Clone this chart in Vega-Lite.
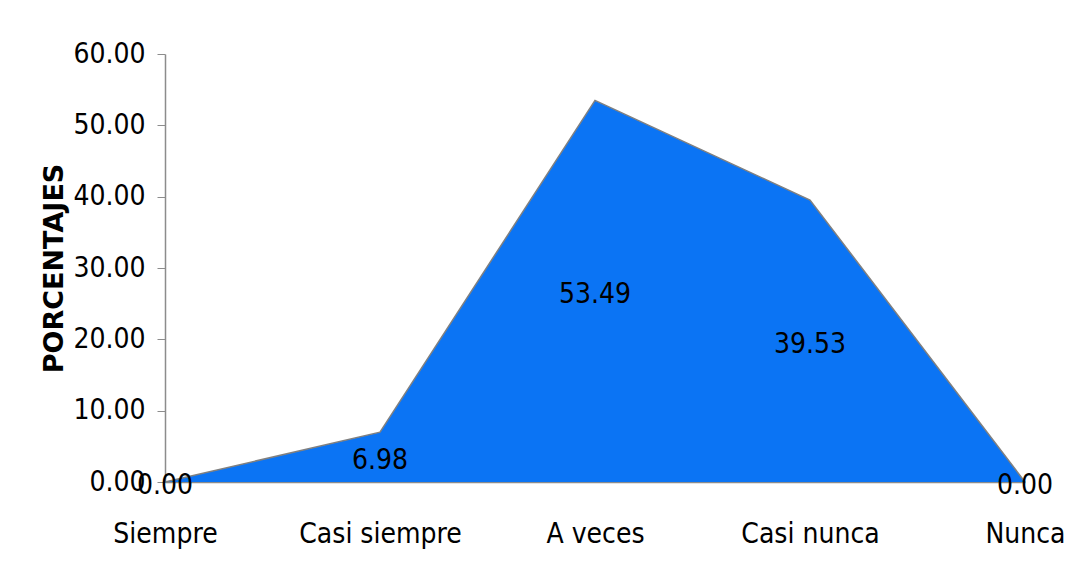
{
  "$schema": "https://vega.github.io/schema/vega-lite/v6.json",
  "width": 860,
  "height": 428,
  "autosize": {"type": "none"},
  "padding": {"left": 165, "top": 54, "right": 55, "bottom": 94},
  "background": "white",
  "config": {
    "view": {"stroke": null},
    "font": "DejaVu Sans Condensed, sans-serif"
  },
  "data": {
    "values": [
      {"categoria": "Siempre", "valor": 0.00},
      {"categoria": "Casi siempre", "valor": 6.98},
      {"categoria": "A veces", "valor": 53.49},
      {"categoria": "Casi nunca", "valor": 39.53},
      {"categoria": "Nunca", "valor": 0.00}
    ]
  },
  "encoding": {
    "x": {
      "field": "categoria",
      "type": "ordinal",
      "sort": null,
      "scale": {"type": "point", "padding": 0},
      "axis": {
        "title": null,
        "labelAngle": 0,
        "labelFont": "DejaVu Sans Condensed, sans-serif",
        "labelFontSize": 28,
        "labelColor": "#000000",
        "labelPadding": 38,
        "ticks": false,
        "domain": true,
        "domainColor": "#8c8c8c",
        "domainWidth": 1.5,
        "labelOverlap": false
      }
    }
  },
  "layer": [
    {
      "mark": {"type": "area", "color": "#0B74F4", "opacity": 1, "fillOpacity": 1, "line": {"color": "#808080", "strokeWidth": 1.5}},
      "encoding": {
        "y": {
          "field": "valor",
          "type": "quantitative",
          "scale": {"domain": [0, 60]},
          "axis": {
            "title": "PORCENTAJES",
            "titleFont": "DejaVu Sans, sans-serif",
            "titleFontSize": 27,
            "titleFontWeight": "bold",
            "titleColor": "#000000",
            "titlePadding": 4,
            "values": [0, 10, 20, 30, 40, 50, 60],
            "format": ".2f",
            "grid": false,
            "labelFont": "DejaVu Sans Condensed, sans-serif",
            "labelFontSize": 28,
            "labelColor": "#000000",
            "labelPadding": 12,
            "tickSize": 8,
            "tickColor": "#8c8c8c",
            "domainColor": "#8c8c8c",
            "domainWidth": 1.5
          }
        }
      }
    },
    {
      "transform": [{"calculate": "datum.valor / 2", "as": "mitad"}],
      "mark": {"type": "text", "fontSize": 28, "color": "#000000", "baseline": "middle", "dy": 4, "font": "DejaVu Sans Condensed, sans-serif"},
      "encoding": {
        "y": {"field": "mitad", "type": "quantitative"},
        "text": {"field": "valor", "type": "quantitative", "format": ".2f"}
      }
    }
  ]
}
